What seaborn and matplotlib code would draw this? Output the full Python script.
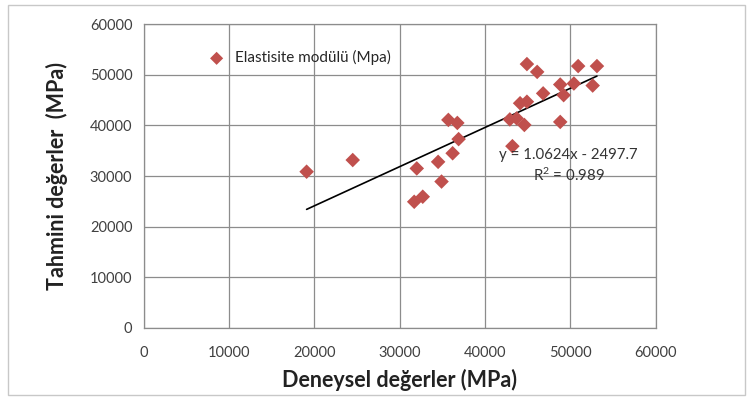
import numpy as np
import pandas as pd
import matplotlib
matplotlib.use("Agg")
import matplotlib.pyplot as plt
from matplotlib.patches import Rectangle
import seaborn as sns

# deneysel (x) ve tahmini (y) elastisite modulu degerleri, MPa
deneysel = [19100, 24500, 32000, 31700, 32700, 34500, 34900, 35700, 36200,
            36750, 36900, 42900, 43700, 43200, 44600, 44100, 44900, 44900,
            46100, 46800, 48800, 48800, 49200, 50400, 50900, 52600, 53100]
tahmini = [30850, 33160, 31500, 24900, 25900, 32800, 28900, 41100, 34500,
           40500, 37300, 41200, 41400, 35900, 40100, 44400, 44700, 52150,
           50600, 46350, 48100, 40700, 46000, 48300, 51750, 47900, 51750]
ticks = [0, 10000, 20000, 30000, 40000, 50000, 60000]
seri_adi = "Elastisite modülü (Mpa)"
denklem = "y = 1.0624x - 2497.7"
r2 = "R$^2$ = 0.989"


def main():
    sns.set_style("white")
    plt.rcParams["font.family"] = ["Lato", "DejaVu Sans"]
    plt.rcParams["mathtext.default"] = "regular"

    df = pd.DataFrame({"x": deneysel, "y": tahmini})

    fig = plt.figure(figsize=(7.53, 4.0), dpi=100)
    ax = fig.add_axes([0.1906, 0.181, 0.6804, 0.758])

    # outer chart border
    fig.patches.append(Rectangle((0.01, 0.012), 0.98, 0.976, transform=fig.transFigure,
                                 fill=False, edgecolor="#c8c8c8", linewidth=1.0))

    sns.scatterplot(data=df, x="x", y="y", marker="D", s=55, color="#C0504D",
                    edgecolor="none", ax=ax, label=seri_adi, zorder=3)
    sns.regplot(data=df, x="x", y="y", scatter=False, ci=None, truncate=True,
                line_kws={"color": "black", "linewidth": 1.2}, ax=ax)

    ax.set_xlim(0, 60000)
    ax.set_ylim(0, 60000)
    ax.set_xticks(ticks)
    ax.set_yticks(ticks)
    ax.tick_params(axis="both", labelsize=10.5, colors="#8c8c8c", length=4,
                   direction="out", labelcolor="#404040")
    ax.tick_params(axis="y", pad=4)
    ax.tick_params(axis="x", pad=9)
    ax.grid(True, color="#8c8c8c", linewidth=0.9)
    for s in ax.spines.values():
        s.set_color("#8c8c8c")
        s.set_linewidth(0.9)

    ax.set_xlabel("Deneysel değerler (MPa)", fontsize=15.5, fontweight="bold",
                  color="#222222", labelpad=7)
    ax.set_ylabel("Tahmini değerler  (MPa)", fontsize=15.5, fontweight="bold",
                  color="#222222", labelpad=16)

    ax.legend(loc="upper left", bbox_to_anchor=(0.086, 0.96), frameon=False,
              fontsize=11, handletextpad=0.2, markerscale=0.9)

    ax.text(0.83, 0.569, denklem, transform=ax.transAxes, fontsize=10.8,
            ha="center", va="center", color="#333333")
    ax.text(0.83, 0.503, r2, transform=ax.transAxes, fontsize=10.8,
            ha="center", va="center", color="#333333")

    fig.savefig("out.png", dpi=100, facecolor="white")


if __name__ == "__main__":
    main()
